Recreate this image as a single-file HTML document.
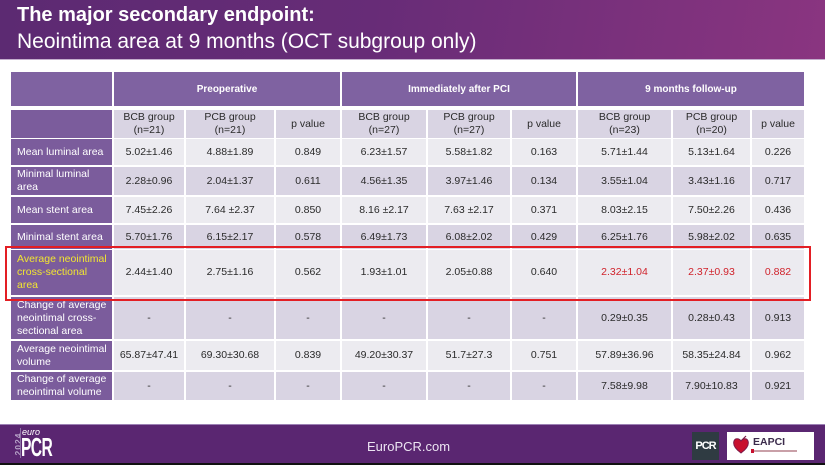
<!DOCTYPE html>
<html><head><meta charset="utf-8">
<style>
*{margin:0;padding:0;box-sizing:border-box}
html,body{width:825px;height:465px;overflow:hidden;background:#fff;font-family:"Liberation Sans",sans-serif}
#hdr{position:absolute;left:0;top:0;width:825px;height:59px;background:linear-gradient(100deg,#5c2a72 0%,#672c77 45%,#8a3580 100%)}
#hdrline{position:absolute;left:0;top:59px;width:825px;height:1px;background:#c4aecd}
.t1{position:absolute;left:17px;top:4px;font-size:20px;font-weight:bold;color:#fff;white-space:nowrap;line-height:22px}
.t2{position:absolute;left:17px;top:30px;font-size:21px;color:#fff;white-space:nowrap;line-height:23px}
.c{position:absolute;display:flex;align-items:center;justify-content:center;text-align:center;font-size:10.5px;line-height:13px;color:#2a2a2a;white-space:nowrap}
.h{background:#7f62a1;color:#fff;font-weight:bold;font-size:10px}
.c0{left:11px;width:101px}
.c1{left:114px;width:70px}
.c2{left:186px;width:88px}
.c3{left:276px;width:64px}
.c4{left:342px;width:84px}
.c5{left:428px;width:82px}
.c6{left:512px;width:64px}
.c7{left:578px;width:93px}
.c8{left:673px;width:77px}
.c9{left:752px;width:52px}
.c.c0{background:#7b5c9c;color:#fff;justify-content:flex-start;text-align:left;padding-left:6px}
.rh{top:110px;height:28px;background:#d9d4e3}
.r1{top:139px;height:26px;background:#ecebf0}
.r2{top:167px;height:28px;background:#d9d4e3}
.r3{top:197px;height:26px;background:#ecebf0}
.r4{top:225px;height:24px;background:#d9d4e3}
.r5{top:250px;height:45px;background:#ecebf0}
.r6{top:297px;height:42px;background:#d9d4e3}
.r7{top:341px;height:29px;background:#ecebf0}
.r8{top:372px;height:28px;background:#d9d4e3}
.red{color:#d0232c}
.yel{color:#f2e630}
#box{position:absolute;left:5px;top:246px;width:806px;height:55px;border:2.5px solid #e31e24}
#ftr{position:absolute;left:0;top:424px;width:825px;height:39px;background:#5a2671;border-top:1px solid #9c80b4}
#blk{position:absolute;left:0;top:463px;width:825px;height:2px;background:#111}
</style></head><body>
<div id="hdr"></div><div id="hdrline"></div>
<div class="t1">The major secondary endpoint:</div>
<div class="t2">Neointima area at 9 months (OCT subgroup only)</div>

<!-- header row 1 -->
<div class="c h" style="left:11px;width:101px;top:72px;height:34px"></div>
<div class="c h" style="left:114px;width:226px;top:72px;height:34px">Preoperative</div>
<div class="c h" style="left:342px;width:234px;top:72px;height:34px">Immediately after PCI</div>
<div class="c h" style="left:578px;width:226px;top:72px;height:34px">9 months follow-up</div>

<!-- header row 2 -->
<div class="c c0 rh"></div>
<div class="c c1 rh">BCB group<br>(n=21)</div>
<div class="c c2 rh">PCB group<br>(n=21)</div>
<div class="c c3 rh">p value</div>
<div class="c c4 rh">BCB group<br>(n=27)</div>
<div class="c c5 rh">PCB group<br>(n=27)</div>
<div class="c c6 rh">p value</div>
<div class="c c7 rh">BCB group<br>(n=23)</div>
<div class="c c8 rh">PCB group<br>(n=20)</div>
<div class="c c9 rh">p value</div>

<!-- r1 -->
<div class="c c0 r1">Mean luminal area</div>
<div class="c c1 r1">5.02±1.46</div>
<div class="c c2 r1">4.88±1.89</div>
<div class="c c3 r1">0.849</div>
<div class="c c4 r1">6.23±1.57</div>
<div class="c c5 r1">5.58±1.82</div>
<div class="c c6 r1">0.163</div>
<div class="c c7 r1">5.71±1.44</div>
<div class="c c8 r1">5.13±1.64</div>
<div class="c c9 r1">0.226</div>

<!-- r2 -->
<div class="c c0 r2">Minimal luminal<br>area</div>
<div class="c c1 r2">2.28±0.96</div>
<div class="c c2 r2">2.04±1.37</div>
<div class="c c3 r2">0.611</div>
<div class="c c4 r2">4.56±1.35</div>
<div class="c c5 r2">3.97±1.46</div>
<div class="c c6 r2">0.134</div>
<div class="c c7 r2">3.55±1.04</div>
<div class="c c8 r2">3.43±1.16</div>
<div class="c c9 r2">0.717</div>

<!-- r3 -->
<div class="c c0 r3">Mean stent area</div>
<div class="c c1 r3">7.45±2.26</div>
<div class="c c2 r3">7.64 ±2.37</div>
<div class="c c3 r3">0.850</div>
<div class="c c4 r3">8.16 ±2.17</div>
<div class="c c5 r3">7.63 ±2.17</div>
<div class="c c6 r3">0.371</div>
<div class="c c7 r3">8.03±2.15</div>
<div class="c c8 r3">7.50±2.26</div>
<div class="c c9 r3">0.436</div>

<!-- r4 -->
<div class="c c0 r4">Minimal stent area</div>
<div class="c c1 r4">5.70±1.76</div>
<div class="c c2 r4">6.15±2.17</div>
<div class="c c3 r4">0.578</div>
<div class="c c4 r4">6.49±1.73</div>
<div class="c c5 r4">6.08±2.02</div>
<div class="c c6 r4">0.429</div>
<div class="c c7 r4">6.25±1.76</div>
<div class="c c8 r4">5.98±2.02</div>
<div class="c c9 r4">0.635</div>

<!-- r5 -->
<div class="c c0 r5"><span class="yel">Average neointimal<br>cross-sectional<br>area</span></div>
<div class="c c1 r5">2.44±1.40</div>
<div class="c c2 r5">2.75±1.16</div>
<div class="c c3 r5">0.562</div>
<div class="c c4 r5">1.93±1.01</div>
<div class="c c5 r5">2.05±0.88</div>
<div class="c c6 r5">0.640</div>
<div class="c c7 r5 red">2.32±1.04</div>
<div class="c c8 r5 red">2.37±0.93</div>
<div class="c c9 r5 red">0.882</div>

<!-- r6 -->
<div class="c c0 r6">Change of average<br>neointimal cross-<br>sectional area</div>
<div class="c c1 r6">-</div>
<div class="c c2 r6">-</div>
<div class="c c3 r6">-</div>
<div class="c c4 r6">-</div>
<div class="c c5 r6">-</div>
<div class="c c6 r6">-</div>
<div class="c c7 r6">0.29±0.35</div>
<div class="c c8 r6">0.28±0.43</div>
<div class="c c9 r6">0.913</div>

<!-- r7 -->
<div class="c c0 r7">Average neointimal<br>volume</div>
<div class="c c1 r7">65.87±47.41</div>
<div class="c c2 r7">69.30±30.68</div>
<div class="c c3 r7">0.839</div>
<div class="c c4 r7">49.20±30.37</div>
<div class="c c5 r7">51.7±27.3</div>
<div class="c c6 r7">0.751</div>
<div class="c c7 r7">57.89±36.96</div>
<div class="c c8 r7">58.35±24.84</div>
<div class="c c9 r7">0.962</div>

<!-- r8 -->
<div class="c c0 r8">Change of average<br>neointimal volume</div>
<div class="c c1 r8">-</div>
<div class="c c2 r8">-</div>
<div class="c c3 r8">-</div>
<div class="c c4 r8">-</div>
<div class="c c5 r8">-</div>
<div class="c c6 r8">-</div>
<div class="c c7 r8">7.58±9.98</div>
<div class="c c8 r8">7.90±10.83</div>
<div class="c c9 r8">0.921</div>

<div id="box"></div>

<!-- footer -->
<div id="ftr"></div>
<div id="blk"></div>
<div style="position:absolute;left:2px;top:438px;width:32px;height:12px;transform:rotate(-90deg);transform-origin:center;font-size:8.5px;font-weight:bold;color:#b7a3c8;letter-spacing:1px;text-align:center;line-height:12px">2024</div>
<div style="position:absolute;left:20px;top:428px;width:1px;height:30px;background:#8e72a6"></div>
<div style="position:absolute;left:22px;top:427px;font-size:9px;font-style:italic;color:#fff;line-height:11px">euro</div>
<div style="position:absolute;left:21px;top:434px;font-size:26px;font-weight:bold;color:#fff;line-height:26px;transform:scaleX(0.6);transform-origin:left top;letter-spacing:-1px">PCR</div>
<div style="position:absolute;left:367px;top:439px;font-size:13px;color:#ece4f2;line-height:16px;white-space:nowrap">EuroPCR.com</div>
<div style="position:absolute;left:692px;top:432px;width:27px;height:28px;background:#2f3b42;color:#fff;font-weight:bold;font-size:11px;line-height:28px;text-align:center;letter-spacing:-1px">PCR</div>
<div style="position:absolute;left:727px;top:432px;width:87px;height:28px;background:#fff"></div>
<svg style="position:absolute;left:732px;top:435px" width="18" height="20" viewBox="0 0 18 20">
<path d="M9 18 C2 13 1 9 2 6 C3 3 7 3 9 6 C11 3 15 3 16 6 C17 9 16 13 9 18Z" fill="#c8102e" stroke="#7a1b4a" stroke-width="1"/>
<path d="M10 5 L14 1" stroke="#7a1b4a" stroke-width="1.2"/>
</svg>
<div style="position:absolute;left:753px;top:436px;font-size:10.5px;font-weight:bold;color:#3b2b4b;line-height:12px">EAPCI</div>
<div style="position:absolute;left:753px;top:450px;width:44px;height:2px;background:#c9a0a8"></div>
<div style="position:absolute;left:751px;top:449px;width:3px;height:4px;background:#c8102e"></div>
</body></html>
